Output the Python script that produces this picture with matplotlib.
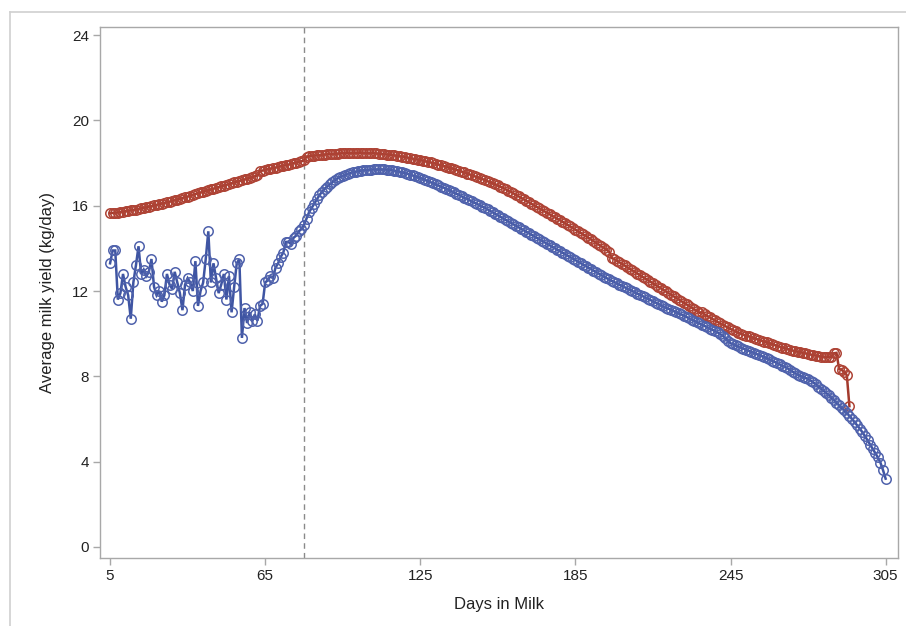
import numpy as np
import matplotlib
matplotlib.use("Agg")
import matplotlib.pyplot as plt
from matplotlib.lines import Line2D

# ---------------- data ----------------
start_day = 5
x_ticks = [5, 65, 125, 185, 245, 305]
y_ticks = [0, 4, 8, 12, 16, 20, 24]
cutoff_day = 80

blue_yield = [
    13.3, 13.9, 13.9, 11.6, 11.9, 12.8, 12.2, 11.8, 10.7, 12.4,   # 5-14
    13.2, 14.1, 12.8, 13.0, 12.7, 12.9, 13.5, 12.2, 11.8, 12.0,   # 15-24
    11.5, 11.8, 12.8, 12.3, 12.1, 12.9, 12.4, 11.9, 11.1, 12.3,   # 25-34
    12.6, 12.4, 12.0, 13.4, 11.3, 12.0, 12.4, 13.5, 14.8, 12.4,   # 35-44
    13.3, 12.6, 11.9, 12.3, 12.8, 11.6, 12.7, 11.0, 12.2, 13.3,   # 45-54
    13.5, 9.8, 11.2, 10.5, 11.0, 10.6, 10.9, 10.6, 11.3, 11.4,    # 55-64
    12.4, 12.5, 12.7, 12.6, 13.1, 13.3, 13.6, 13.8, 14.3, 14.3,   # 65-74
    14.2, 14.5, 14.6, 14.8, 14.9, 15.1, 15.4, 15.7, 15.9, 16.1,   # 75-84
    16.3, 16.5, 16.65, 16.8, 16.9, 17.0, 17.1, 17.2, 17.28, 17.35,  # 85-94
    17.4, 17.45, 17.5, 17.54, 17.57, 17.6, 17.62, 17.64, 17.66, 17.67,  # 95-104
    17.68, 17.69, 17.7, 17.7, 17.7, 17.7, 17.7, 17.69, 17.68, 17.66,  # 105-114
    17.64, 17.62, 17.59, 17.56, 17.53, 17.5, 17.46, 17.42, 17.38, 17.34,  # 115-124
    17.3, 17.25, 17.2, 17.15, 17.1, 17.05, 17.0, 16.95, 16.9, 16.85,  # 125-134
    16.8, 16.74, 16.68, 16.62, 16.56, 16.5, 16.44, 16.38, 16.32, 16.26,  # 135-144
    16.2, 16.14, 16.08, 16.02, 15.96, 15.9, 15.83, 15.76, 15.69, 15.62,  # 145-154
    15.55, 15.48, 15.41, 15.34, 15.27, 15.2, 15.13, 15.06, 14.99, 14.92,  # 155-164
    14.85, 14.78, 14.71, 14.64, 14.57, 14.5, 14.43, 14.36, 14.29, 14.22,  # 165-174
    14.15, 14.08, 14.01, 13.94, 13.87, 13.8, 13.73, 13.66, 13.59, 13.52,  # 175-184
    13.45, 13.38, 13.31, 13.24, 13.17, 13.1, 13.03, 12.96, 12.89, 12.82,  # 185-194
    12.75, 12.68, 12.61, 12.54, 12.48, 12.42, 12.36, 12.3, 12.24, 12.18,  # 195-204
    12.12, 12.06, 12.0, 11.94, 11.88, 11.82, 11.76, 11.7, 11.64, 11.58,  # 205-214
    11.52, 11.46, 11.4, 11.34, 11.28, 11.22, 11.17, 11.12, 11.06, 11.0,  # 215-224
    10.95, 10.9, 10.84, 10.78, 10.72, 10.66, 10.6, 10.54, 10.48, 10.42,  # 225-234
    10.36, 10.3, 10.24, 10.18, 10.12, 10.06, 9.98, 9.9, 9.8, 9.65,  # 235-244
    9.55, 9.5, 9.45, 9.4, 9.35, 9.3, 9.25, 9.2, 9.15, 9.1,  # 245-254
    9.05, 9.0, 8.95, 8.9, 8.85, 8.8, 8.74, 8.68, 8.62, 8.56,  # 255-264
    8.5, 8.44, 8.38, 8.3, 8.22, 8.15, 8.08, 8.02, 7.96, 7.92,  # 265-274
    7.88, 7.8, 7.72, 7.62, 7.52, 7.42, 7.32, 7.22, 7.12, 7.0,  # 275-284
    6.88, 6.76, 6.64, 6.52, 6.4, 6.28, 6.14, 6.0, 5.85, 5.7,  # 285-294
    5.55, 5.38, 5.2, 5.0, 4.8, 4.6, 4.4, 4.2, 3.95, 3.6,  # 295-304
    3.2,  # 305
]

red_yield = [
    15.65, 15.66, 15.67, 15.68, 15.70, 15.72, 15.74, 15.76, 15.78, 15.80,  # 5-14
    15.82, 15.85, 15.87, 15.90, 15.92, 15.95, 15.98, 16.01, 16.04, 16.07,  # 15-24
    16.10, 16.13, 16.16, 16.19, 16.22, 16.26, 16.29, 16.33, 16.36, 16.40,  # 25-34
    16.43, 16.47, 16.51, 16.55, 16.58, 16.62, 16.66, 16.69, 16.73, 16.76,  # 35-44
    16.80, 16.84, 16.87, 16.91, 16.94, 16.98, 17.02, 17.05, 17.09, 17.12,  # 45-54
    17.16, 17.20, 17.23, 17.27, 17.30, 17.34, 17.38, 17.42, 17.62, 17.65,  # 55-64
    17.68, 17.71, 17.74, 17.77, 17.79, 17.82, 17.85, 17.88, 17.90, 17.93,  # 65-74
    17.96, 17.99, 18.02, 18.05, 18.08, 18.12, 18.30, 18.32, 18.33, 18.35,  # 75-84
    18.36, 18.37, 18.38, 18.40, 18.41, 18.42, 18.43, 18.44, 18.44, 18.45,  # 85-94
    18.46, 18.46, 18.47, 18.47, 18.48, 18.48, 18.48, 18.48, 18.48, 18.47,  # 95-104
    18.47, 18.46, 18.46, 18.45, 18.44, 18.43, 18.42, 18.40, 18.39, 18.37,  # 105-114
    18.36, 18.34, 18.32, 18.30, 18.28, 18.26, 18.24, 18.21, 18.19, 18.16,  # 115-124
    18.14, 18.11, 18.08, 18.06, 18.03, 18.00, 17.97, 17.93, 17.90, 17.86,  # 125-134
    17.83, 17.79, 17.75, 17.72, 17.68, 17.64, 17.60, 17.56, 17.51, 17.47,  # 135-144
    17.43, 17.38, 17.34, 17.29, 17.25, 17.20, 17.15, 17.10, 17.05, 17.00,  # 145-154
    16.95, 16.89, 16.83, 16.77, 16.71, 16.65, 16.58, 16.51, 16.44, 16.37,  # 155-164
    16.30, 16.23, 16.16, 16.09, 16.02, 15.95, 15.88, 15.81, 15.74, 15.67,  # 165-174
    15.60, 15.53, 15.46, 15.39, 15.32, 15.25, 15.18, 15.10, 15.03, 14.95,  # 175-184
    14.88, 14.80, 14.73, 14.65, 14.58, 14.50, 14.42, 14.34, 14.26, 14.18,  # 185-194
    14.10, 14.02, 13.94, 13.85, 13.55, 13.50, 13.42, 13.35, 13.27, 13.20,  # 195-204
    13.12, 13.04, 12.97, 12.89, 12.82, 12.74, 12.66, 12.59, 12.51, 12.44,  # 205-214
    12.36, 12.28, 12.21, 12.13, 12.06, 11.98, 11.90, 11.83, 11.75, 11.68,  # 215-224
    11.60, 11.52, 11.45, 11.37, 11.30, 11.22, 11.14, 11.06, 10.98, 11.02,  # 225-234
    10.90, 10.83, 10.76, 10.69, 10.62, 10.55, 10.48, 10.42, 10.35, 10.29,  # 235-244
    10.22, 10.16, 10.11, 10.05, 10.00, 9.95, 9.90, 9.88, 9.84, 9.79,  # 245-254
    9.75, 9.71, 9.67, 9.63, 9.59, 9.55, 9.51, 9.47, 9.43, 9.39,  # 255-264
    9.35, 9.32, 9.28, 9.25, 9.21, 9.18, 9.15, 9.13, 9.10, 9.08,  # 265-274
    9.05, 9.02, 9.00, 8.97, 8.95, 8.92, 8.91, 8.90, 8.90, 8.90,  # 275-284
    9.08, 9.10, 8.35, 8.30, 8.20, 8.05, 6.60,  # 285-291
]

blue_days = np.arange(start_day, start_day + len(blue_yield))
red_days = np.arange(start_day, start_day + len(red_yield))

# ---------------- styling ----------------
BLUE_LINE = "#3F55A3"
BLUE_MARK = "#4F62AC"
RED_LINE = "#A33A2C"
RED_MARK = "#AE4335"
FRAME = "#A8A8A8"
TEXT = "#222222"

plt.rcParams["font.family"] = ["Liberation Sans", "DejaVu Sans"]

fig = plt.figure(figsize=(9.06, 6.26), dpi=100)
ax = fig.add_axes([100 / 906, 1 - 558 / 626, (897.5 - 100) / 906, (558 - 27) / 626])

ax.plot(red_days, red_yield, color=RED_LINE, lw=1.8, solid_joinstyle="miter",
        marker="o", markersize=6.8, markerfacecolor="none",
        markeredgecolor=RED_MARK, markeredgewidth=1.1, zorder=3)
ax.plot(blue_days, blue_yield, color=BLUE_LINE, lw=1.8, solid_joinstyle="miter",
        marker="o", markersize=6.8, markerfacecolor="none",
        markeredgecolor=BLUE_MARK, markeredgewidth=1.1, zorder=4)

ax.axvline(cutoff_day, color="#8A8A8A", lw=1.0, ls=(0, (4, 3)), zorder=2)

ax.set_xlim(1.1, 309.6)
ax.set_ylim(-0.52, 24.38)
ax.set_xticks(x_ticks)
ax.set_xticklabels([str(v) for v in x_ticks])
ax.set_yticks(y_ticks)
ax.set_yticklabels([str(v) for v in y_ticks])

for s in ax.spines.values():
    s.set_color(FRAME)
    s.set_linewidth(1.0)
ax.tick_params(axis="both", direction="out", length=5, width=1.0, color=FRAME,
               labelcolor=TEXT, labelsize=11, pad=3)

ax.set_xlabel("Days in Milk", fontsize=12, color=TEXT, labelpad=10)
ax.set_ylabel("Average milk yield (kg/day)", fontsize=12, color=TEXT, labelpad=12)

# outer frame lines (top and left) like the reference crop
fig.add_artist(Line2D([10 / 906, 1.0], [1 - 12 / 626, 1 - 12 / 626],
                      transform=fig.transFigure, color="#D0D0D0", lw=1.2))
fig.add_artist(Line2D([10 / 906, 10 / 906], [0.0, 1 - 12 / 626],
                      transform=fig.transFigure, color="#D0D0D0", lw=1.2))

fig.savefig("out.png", dpi=100)
